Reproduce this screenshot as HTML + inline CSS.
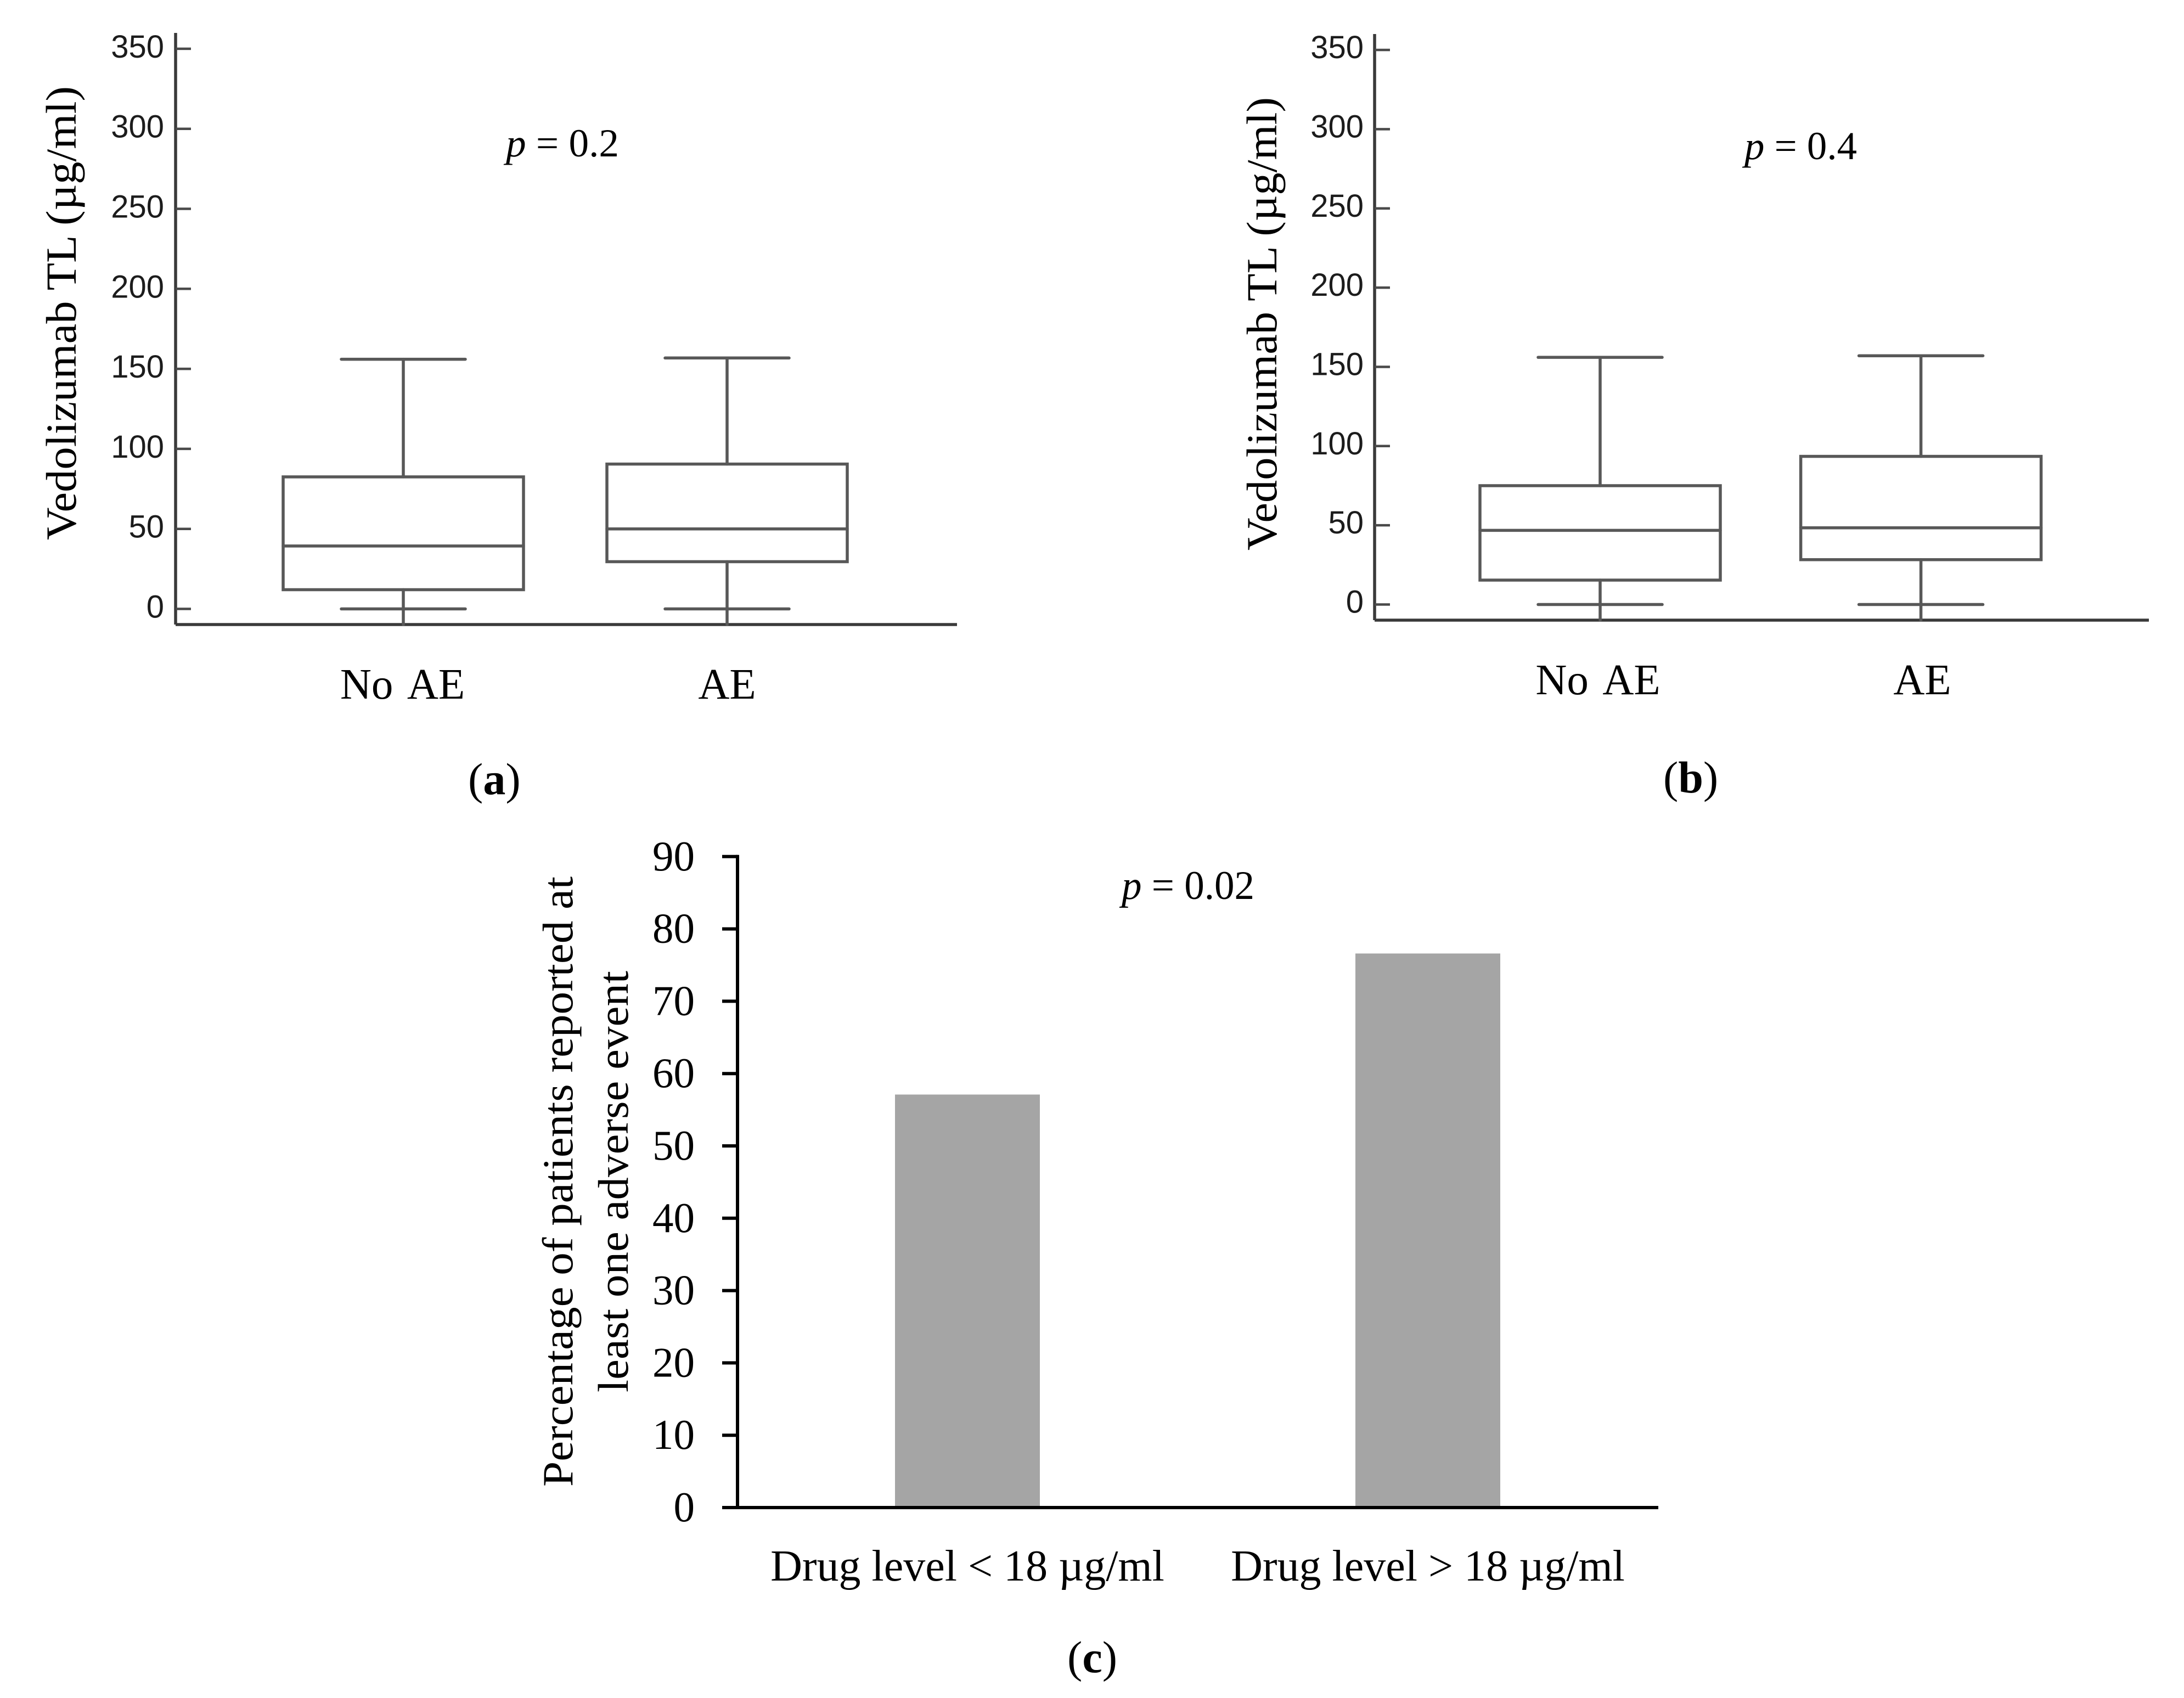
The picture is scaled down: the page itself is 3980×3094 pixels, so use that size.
<!DOCTYPE html>
<html lang="en">
<head>
<meta charset="utf-8">
<title>Vedolizumab trough levels and adverse events</title>
<style>
html,body{margin:0;padding:0;background:#fff;}
#figure{display:block;position:absolute;left:0;top:0;}
text{font-family:"Liberation Serif",serif;fill:#000;}
.sans{font-family:"Liberation Sans",sans-serif;fill:#1c1c1c;font-size:58px;}
.serif78{font-size:78px;}
.cat-box{font-size:79px;word-spacing:10px;}
.serif80{font-size:80px;}
.serif76{font-size:77px;}
.box-line{stroke:#585858;stroke-width:5.5;fill:none;stroke-linecap:round;}
.box-axis{stroke:#3a3a3a;stroke-width:5.5;fill:none;}
.box-tick{stroke:#4a4a4a;stroke-width:4.5;fill:none;}
.bar-axis{stroke:#000;stroke-width:6;fill:none;}
</style>
</head>
<body>
<svg id="figure" xmlns="http://www.w3.org/2000/svg" width="3980" height="3094" viewBox="0 0 3980 3094">
  <rect x="0" y="0" width="3980" height="3094" fill="#fff"/>

  <g id="panel-a">
    <text class="serif78" transform="translate(138 984) rotate(-90)" textLength="827" lengthAdjust="spacingAndGlyphs">Vedolizumab TL (µg/ml)</text>
    <text x="922" y="285" font-size="72" textLength="206" lengthAdjust="spacingAndGlyphs"><tspan font-style="italic">p</tspan> = 0.2</text>
    <text x="853" y="1447" font-size="82">(<tspan font-weight="bold">a</tspan>)</text>
  </g>

  <g id="panel-b">
    <text class="serif78" transform="translate(2326 1003) rotate(-90)" textLength="826" lengthAdjust="spacingAndGlyphs">Vedolizumab TL (µg/ml)</text>
    <text x="3179" y="290" font-size="72" textLength="205" lengthAdjust="spacingAndGlyphs"><tspan font-style="italic">p</tspan> = 0.4</text>
    <text x="3031" y="1444" font-size="82">(<tspan font-weight="bold">b</tspan>)</text>
  </g>

  <g id="panel-c">
    <text class="serif78" transform="translate(1043 2709) rotate(-90)" textLength="1112" lengthAdjust="spacingAndGlyphs">Percentage of patients reported at</text>
    <text class="serif78" transform="translate(1144 2537) rotate(-90)" textLength="768" lengthAdjust="spacingAndGlyphs">least one adverse event</text>
    <text x="2044" y="1638" font-size="74" textLength="242" lengthAdjust="spacingAndGlyphs"><tspan font-style="italic">p</tspan> = 0.02</text>
    <text x="1945" y="3047" font-size="82">(<tspan font-weight="bold">c</tspan>)</text>
  </g>
</svg>

<script>
// Box plot data (panels a and b)
const boxCategories = ['No AE', 'AE'];
const boxTicks = [0, 50, 100, 150, 200, 250, 300, 350];
const panelAHigh = [156, 156.8];
const panelAQ3 = [82.5, 90.5];
const panelAMedian = [39.3, 50];
const panelAQ1 = [12, 29.5];
const panelALow = [0, 0];
const panelBHigh = [156, 157];
const panelBQ3 = [75, 93.5];
const panelBMedian = [46.8, 48.4];
const panelBQ1 = [15.4, 28.3];
const panelBLow = [0, 0];

// Bar chart data (panel c)
const barCategories = ['Drug level < 18 µg/ml', 'Drug level > 18 µg/ml'];
const barValues = [57.1, 76.6];
const barTicks = [0, 10, 20, 30, 40, 50, 60, 70, 80, 90];

const SVG_NS = 'http://www.w3.org/2000/svg';

function line(parent, x1, y1, x2, y2, cls) {
  const el = document.createElementNS(SVG_NS, 'line');
  el.setAttribute('x1', x1);
  el.setAttribute('y1', y1);
  el.setAttribute('x2', x2);
  el.setAttribute('y2', y2);
  el.setAttribute('class', cls);
  
  parent.appendChild(el);
  return el;
}

function label(parent, x, y, str, cls, anchor) {
  const el = document.createElementNS(SVG_NS, 'text');
  el.setAttribute('x', x);
  el.setAttribute('y', y);
  el.setAttribute('class', cls);
  el.setAttribute('text-anchor', anchor);
  
  el.textContent = str;
  parent.appendChild(el);
  return el;
}

// Panel a axis functions
const aY = v => 1109.5 - v * 2.916;
const aX = i => 735 + i * 590;
const aLabelX = i => 733.5 + i * 591.5;
// Panel b axis functions
const bY = v => 1101.5 - v * 2.887;
const bX = i => 2916 + i * 584.6;
const bLabelX = i => 2912 + i * 591;
// Panel c axis functions
const cY = v => 2747 - v * 13.18;
const cX = i => 1763 + i * 839;

function drawBoxPanel(id, xScale, labelScale, yScale, high, q3, median, q1, low, axisX, axisTop, baseline, axisRight, labelRight, labelDy, catBaseline) {
  const g = document.getElementById(id);

  const yAxis = line(g, axisX, axisTop, axisX, baseline, 'box-axis');
  
  const xAxis = line(g, axisX, baseline, axisRight, baseline, 'box-axis');
  

  boxTicks.forEach(t => {
    const tick = line(g, axisX, yScale(t), axisX + 28, yScale(t), 'box-tick');
    
    const tl = label(g, labelRight, yScale(t) + labelDy, String(t), 'sans', 'end');
    
  });

  boxCategories.forEach((c, i) => {
    const x = xScale(i);
    const halfBox = 219;
    const halfCap = 113;

    const upper = line(g, x, yScale(high[i]), x, yScale(q3[i]), 'box-line');
    
    const lower = line(g, x, yScale(q1[i]), x, baseline, 'box-line');
    
    const capHigh = line(g, x - halfCap, yScale(high[i]), x + halfCap, yScale(high[i]), 'box-line');
    
    const capLow = line(g, x - halfCap, yScale(low[i]), x + halfCap, yScale(low[i]), 'box-line');
    

    const box = document.createElementNS(SVG_NS, 'rect');
    box.setAttribute('x', x - halfBox);
    box.setAttribute('y', yScale(q3[i]));
    box.setAttribute('width', halfBox * 2);
    box.setAttribute('height', yScale(q1[i]) - yScale(q3[i]));
    box.setAttribute('class', 'box-line');
    
    
    g.appendChild(box);

    const med = line(g, x - halfBox, yScale(median[i]), x + halfBox, yScale(median[i]), 'box-line');
    

    const cat = label(g, labelScale(i), catBaseline, c, 'cat-box', 'middle');
    
  });
}

function drawBarPanel() {
  const g = document.getElementById('panel-c');
  const halfBar = 132;

  barValues.forEach((v, i) => {
    const bar = document.createElementNS(SVG_NS, 'rect');
    bar.setAttribute('x', cX(i) - halfBar);
    bar.setAttribute('y', cY(v));
    bar.setAttribute('width', halfBar * 2);
    bar.setAttribute('height', cY(0) - cY(v));
    bar.setAttribute('fill', '#a5a5a5');
    
    
    g.appendChild(bar);

    const cat = label(g, cX(i), 2880, barCategories[i], 'serif80', 'middle');
    
  });

  const yAxis = line(g, 1344, cY(90) - 3, 1344, cY(0), 'bar-axis');
  
  const xAxis = line(g, 1316, cY(0), 3022, cY(0), 'bar-axis');
  

  barTicks.forEach(t => {
    const tick = line(g, 1316, cY(t), 1344, cY(t), 'bar-axis');
    
    const tl = label(g, 1266, cY(t) + 25, String(t), 'serif76', 'end');
    
  });
}

drawBoxPanel('panel-a', aX, aLabelX, aY, panelAHigh, panelAQ3, panelAMedian, panelAQ1, panelALow, 320, 60, 1138, 1744, 299, 16, 1273);
drawBoxPanel('panel-b', bX, bLabelX, bY, panelBHigh, panelBQ3, panelBMedian, panelBQ1, panelBLow, 2505, 62, 1130, 3916, 2485, 15, 1265);
drawBarPanel();
</script>
</body>
</html>
